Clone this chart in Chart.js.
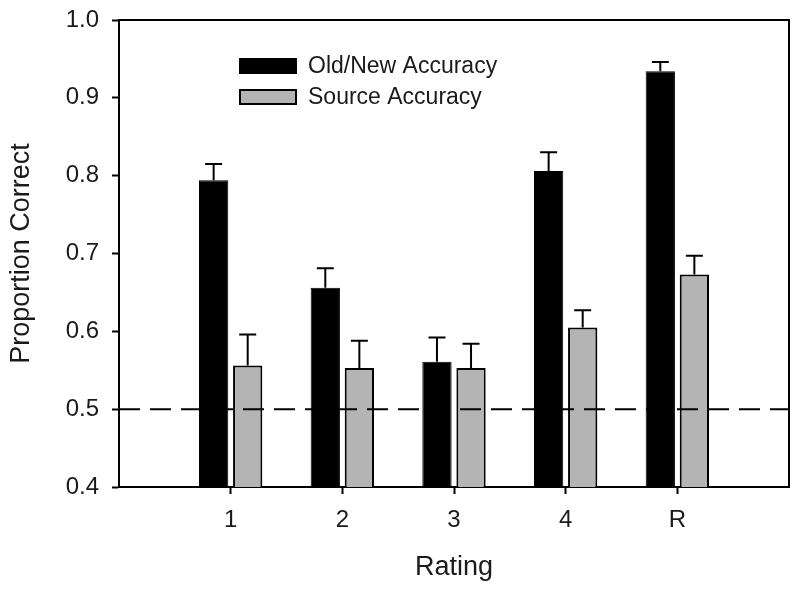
<!DOCTYPE html>
<html><head><meta charset="utf-8">
<script src="https://cdn.jsdelivr.net/npm/chart.js@4/dist/chart.umd.min.js"></script>
<style>html,body{margin:0;padding:0;background:#fff}#wrap{width:800px;height:593px}</style>
</head><body><div id="wrap"><canvas id="c" width="800" height="593"></canvas></div>
<script>
const categories = ['1', '2', '3', '4', 'R'];
const oldNewAccuracy = [0.794, 0.656, 0.561, 0.806, 0.934];
const oldNewError = [0.021, 0.025, 0.031, 0.024, 0.012];
const sourceAccuracy = [0.556, 0.553, 0.553, 0.605, 0.673];
const sourceError = [0.040, 0.035, 0.031, 0.022, 0.024];
const chanceLevel = 0.5;
const yTicks = [0.4, 0.5, 0.6, 0.7, 0.8, 0.9, 1.0];

const pad = a => [null, ...a, null];
const labels = ['', ...categories, ''];
const FONT = "'Liberation Sans', Arial, sans-serif";
const TXT = '#1a1a1a';

const errorBars = {
  id: 'errorBars',
  afterDatasetsDraw(chart) {
    const ctx = chart.ctx, y = chart.scales.y;
    const errs = [pad(oldNewError), pad(sourceError)];
    ctx.save();
    ctx.strokeStyle = '#000'; ctx.lineWidth = 2;
    chart.data.datasets.forEach((ds, di) => {
      const meta = chart.getDatasetMeta(di);
      meta.data.forEach((bar, i) => {
        const v = ds.data[i], e = errs[di][i];
        if (v == null || e == null) return;
        const top = y.getPixelForValue(v + e), base = y.getPixelForValue(v);
        ctx.beginPath();
        ctx.moveTo(bar.x, base); ctx.lineTo(bar.x, top);
        ctx.moveTo(bar.x - 8.5, top); ctx.lineTo(bar.x + 8.5, top);
        ctx.stroke();
      });
    });
    const py = y.getPixelForValue(chanceLevel);
    const a = chart.chartArea;
    ctx.setLineDash([21, 10]);
    ctx.beginPath(); ctx.moveTo(a.left, py); ctx.lineTo(a.right, py); ctx.stroke();
    ctx.setLineDash([]);
    ctx.beginPath();
    ctx.moveTo(a.left, a.top); ctx.lineTo(a.right, a.top); ctx.lineTo(a.right, a.bottom);
    ctx.stroke();
    ctx.font = '23px ' + FONT; ctx.textBaseline = 'middle';
    chart.data.datasets.forEach((ds, di) => {
      const yy = 66 + di * 31;
      ctx.fillStyle = ds.backgroundColor;
      ctx.fillRect(240, yy - 7, 56, 14);
      ctx.strokeStyle = '#000'; ctx.lineWidth = 2;
      ctx.strokeRect(240, yy - 7, 56, 14);
      ctx.fillStyle = TXT;
      ctx.fillText(ds.label, 308, yy + 1);
    });
    ctx.restore();
  }
};

new Chart(document.getElementById('c'), {
  type: 'bar',
  data: {
    labels,
    datasets: [
      { label: 'Old/New Accuracy', data: pad(oldNewAccuracy), backgroundColor: '#000000', borderColor: '#000', borderWidth: 1 },
      { label: 'Source Accuracy', data: pad(sourceAccuracy), backgroundColor: '#b4b4b4', borderColor: '#000', borderWidth: 2 }
    ]
  },
  options: {
    responsive: false, animation: false,
    layout: { padding: { top: 20, right: 11, left: 0, bottom: 0 } },
    datasets: { bar: { categoryPercentage: 0.61, barPercentage: 0.86 } },
    plugins: { legend: { display: false }, tooltip: { enabled: false } },
    scales: {
      x: {
        offset: false,
        grid: { offset: false, drawOnChartArea: false, tickLength: 7, tickWidth: 2,
          tickColor: c => (c.index === 0 || c.index === labels.length - 1) ? 'rgba(0,0,0,0)' : '#000' },
        border: { color: '#000', width: 2 },
        ticks: { color: TXT, font: { family: FONT, size: 24 }, padding: 12, maxRotation: 0, autoSkip: false },
        title: { display: true, text: 'Rating', color: TXT, font: { family: FONT, size: 27 }, padding: { top: 14, bottom: 9 } },
        afterFit: s => { s.height = 106; s.paddingLeft = 0; s.paddingRight = 0; }
      },
      y: {
        min: 0.4, max: 1.0,
        afterBuildTicks: s => { s.ticks = yTicks.map(v => ({ value: v })); },
        grid: { drawOnChartArea: false, tickLength: 7, tickWidth: 2, tickColor: '#000' },
        border: { color: '#000', width: 2 },
        ticks: { color: TXT, font: { family: FONT, size: 24 }, padding: 13, callback: v => Number(v).toFixed(1) },
        title: { display: true, text: 'Proportion Correct', color: TXT, font: { family: FONT, size: 27 }, padding: { top: 5, bottom: 0 } },
        afterFit: s => { s.width = 119; s.paddingTop = 0; s.paddingBottom = 0; }
      }
    }
  },
  plugins: [errorBars]
});
</script></body></html>
